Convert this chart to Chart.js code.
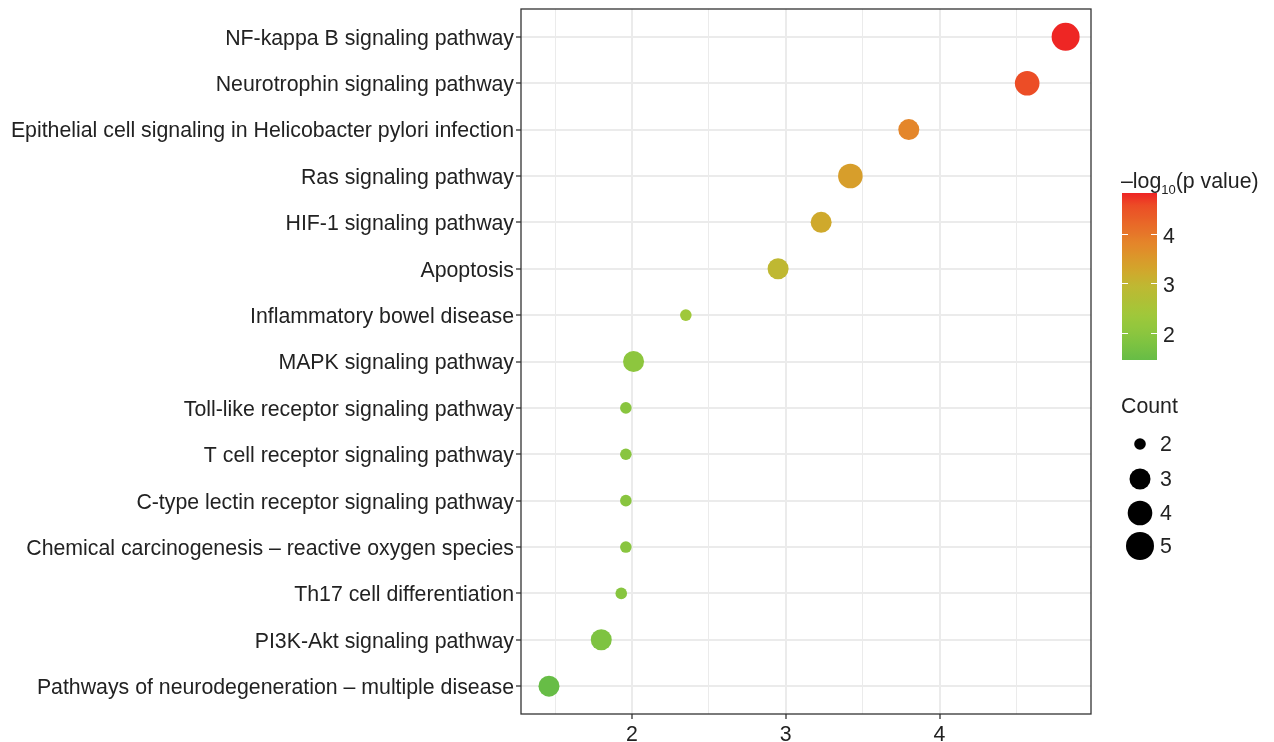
<!DOCTYPE html>
<html>
<head>
<meta charset="utf-8">
<script src="https://cdn.jsdelivr.net/npm/chart.js@4/dist/chart.umd.min.js"></script>
<style>
  html, body { margin: 0; padding: 0; background: #fff; }
  #wrap { width: 1274px; height: 742px; position: relative; }
</style>
</head>
<body>
<div id="wrap"><canvas id="chart" width="1274" height="742"></canvas></div>
<script>
// KEGG enrichment dot plot
const categories = [
  'NF-kappa B signaling pathway',
  'Neurotrophin signaling pathway',
  'Epithelial cell signaling in Helicobacter pylori infection',
  'Ras signaling pathway',
  'HIF-1 signaling pathway',
  'Apoptosis',
  'Inflammatory bowel disease',
  'MAPK signaling pathway',
  'Toll-like receptor signaling pathway',
  'T cell receptor signaling pathway',
  'C-type lectin receptor signaling pathway',
  'Chemical carcinogenesis \u2013 reactive oxygen species',
  'Th17 cell differentiation',
  'PI3K-Akt signaling pathway',
  'Pathways of neurodegeneration \u2013 multiple disease'
];
const xValues = [4.82, 4.57, 3.80, 3.42, 3.23, 2.95, 2.35, 2.01, 1.96, 1.96, 1.96, 1.96, 1.93, 1.80, 1.46];
const logP    = [4.82, 4.57, 3.80, 3.42, 3.23, 2.95, 2.35, 2.01, 1.96, 1.96, 1.96, 1.96, 1.93, 1.80, 1.46];
const counts  = [5, 4, 3, 4, 3, 3, 2, 3, 2, 2, 2, 2, 2, 3, 3];
const xMajorTicks = [2, 3, 4];
const xMinorTicks = [1.5, 2.5, 3.5, 4.5];
const colorTicks = [2, 3, 4];
const countLegend = [2, 3, 4, 5];

const FONT = '"Liberation Sans", Arial, Helvetica, sans-serif';
const TEXT = '#222';
const FS = 21.3;
const colorRange = [1.45, 4.83];
const colorStops = [
  [1.45, [102, 189, 70]],
  [2.0, [140, 198, 62]],
  [2.35, [159, 200, 58]],
  [2.95, [191, 184, 50]],
  [3.3, [211, 165, 43]],
  [3.8, [228, 134, 42]],
  [4.57, [236, 77, 38]],
  [4.83, [238, 36, 36]]
];
function colorFor(v) {
  if (v <= colorStops[0][0]) return 'rgb(' + colorStops[0][1].join(',') + ')';
  for (let i = 1; i < colorStops.length; i++) {
    const [b, cb] = colorStops[i], [a, ca] = colorStops[i - 1];
    if (v <= b) {
      const t = (v - a) / (b - a);
      return 'rgb(' + ca.map((c, k) => Math.round(c + (cb[k] - c) * t)).join(',') + ')';
    }
  }
  return 'rgb(' + colorStops[colorStops.length - 1][1].join(',') + ')';
}
// size scale (radius in px by count)
const radiusByCount = { 2: 5.8, 3: 10.5, 4: 12.3, 5: 14 };

const points = categories.map((c, i) => ({ x: xValues[i], y: i }));

const panelBorder = {
  id: 'panelBorder',
  afterDraw(chart) {
    const { ctx, chartArea: a } = chart;
    ctx.save();
    ctx.strokeStyle = '#333';
    ctx.lineWidth = 1.3;
    ctx.strokeRect(a.left, a.top, a.right - a.left, a.bottom - a.top);
    ctx.restore();
  }
};

const legends = {
  id: 'legends',
  afterDraw(chart) {
    const ctx = chart.ctx;
    ctx.save();
    // colour bar
    const bx = 1122, bw = 35, top = 193, bottom = 360;
    const toY = v => bottom - (v - colorRange[0]) / (colorRange[1] - colorRange[0]) * (bottom - top);
    const g = ctx.createLinearGradient(0, bottom, 0, top);
    for (let k = 0; k <= 40; k++) {
      const v = colorRange[0] + (colorRange[1] - colorRange[0]) * k / 40;
      g.addColorStop(k / 40, colorFor(v));
    }
    ctx.fillStyle = g;
    ctx.fillRect(bx, top, bw, bottom - top);
    ctx.strokeStyle = '#fff';
    ctx.lineWidth = 1;
    ctx.font = FS + 'px ' + FONT;
    ctx.fillStyle = TEXT;
    ctx.textBaseline = 'middle';
    ctx.textAlign = 'left';
    colorTicks.forEach(v => {
      const y = Math.round(toY(v)) + 0.5;
      ctx.beginPath();
      ctx.moveTo(bx, y); ctx.lineTo(bx + 6, y);
      ctx.moveTo(bx + bw - 6, y); ctx.lineTo(bx + bw, y);
      ctx.stroke();
      ctx.fillText(String(v), bx + bw + 6, y + 3);
    });
    // colour bar title: –log10(p value)
    ctx.textBaseline = 'alphabetic';
    let tx = 1121;
    const ty = 188;
    ctx.fillText('\u2013log', tx, ty);
    tx += ctx.measureText('\u2013log').width;
    ctx.font = '13px ' + FONT;
    ctx.fillText('10', tx, ty + 6);
    tx += ctx.measureText('10').width;
    ctx.font = FS + 'px ' + FONT;
    ctx.fillText('(p value)', tx, ty);

    // size legend
    ctx.fillText('Count', 1121, 413);
    const ys = [444, 479, 513, 546];
    ctx.textBaseline = 'middle';
    countLegend.forEach((c, i) => {
      ctx.fillStyle = '#000';
      ctx.beginPath();
      ctx.arc(1140, ys[i], radiusByCount[c], 0, Math.PI * 2);
      ctx.fill();
      ctx.fillStyle = TEXT;
      ctx.fillText(String(c), 1160, ys[i] + 1);
    });
    ctx.restore();
  }
};

new Chart(document.getElementById('chart'), {
  type: 'scatter',
  data: {
    datasets: [{
      data: points,
      clip: false,
      pointRadius: ctx => radiusByCount[counts[ctx.dataIndex]],
      pointHoverRadius: ctx => radiusByCount[counts[ctx.dataIndex]],
      pointBackgroundColor: ctx => colorFor(logP[ctx.dataIndex]),
      pointBorderWidth: 0,
      pointBorderColor: 'rgba(0,0,0,0)'
    }]
  },
  options: {
    responsive: false,
    animation: false,
    layout: { autoPadding: false, padding: { top: 9, right: 183, left: 0, bottom: 0 } },
    plugins: { legend: { display: false }, tooltip: { enabled: false } },
    scales: {
      x: {
        type: 'linear',
        min: 1.278,
        max: 4.985,
        afterBuildTicks: scale => {
          scale.ticks = xMinorTicks.concat(xMajorTicks).sort((a, b) => a - b).map(v => ({ value: v }));
        },
        afterFit: scale => {
          scale.height = 28;
          scale.paddingLeft = 0; scale.paddingRight = 0;
        },
        border: { display: false },
        grid: {
          color: '#ebebeb',
          lineWidth: ctx => xMajorTicks.includes(ctx.tick && ctx.tick.value) ? 2 : 1,
          tickColor: ctx => xMajorTicks.includes(ctx.tick && ctx.tick.value) ? '#333' : 'rgba(0,0,0,0)',
          tickLength: 5,
          tickWidth: 1.3
        },
        ticks: {
          autoSkip: false,
          maxRotation: 0,
          padding: 3,
          color: TEXT,
          font: { family: FONT, size: FS },
          callback: v => xMajorTicks.includes(v) ? String(v) : ''
        }
      },
      y: {
        type: 'linear',
        min: -0.6,
        max: categories.length - 0.4,
        reverse: true,
        afterBuildTicks: scale => {
          scale.ticks = categories.map((c, i) => ({ value: i }));
        },
        afterFit: scale => {
          scale.width = 521;
          scale.paddingTop = 0; scale.paddingBottom = 0;
        },
        border: { display: false },
        grid: {
          color: '#ebebeb',
          lineWidth: 2,
          tickColor: '#333',
          tickLength: 5,
          tickWidth: 1.3
        },
        ticks: {
          autoSkip: false,
          padding: 2,
          labelOffset: 2,
          color: TEXT,
          font: { family: FONT, size: FS },
          callback: v => categories[v]
        }
      }
    }
  },
  plugins: [panelBorder, legends]
});
</script>
</body>
</html>
